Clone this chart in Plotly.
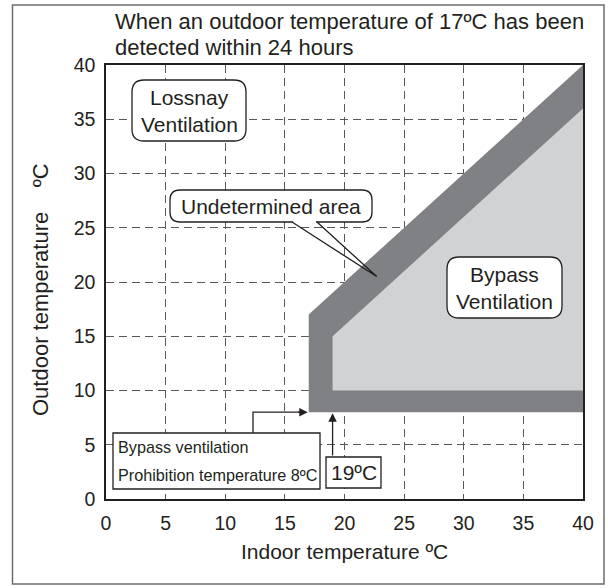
import plotly.graph_objects as go

# Operating regions of the ventilation mode switch (indoor vs outdoor temperature, ºC)
undetermined_x = [17, 17, 40, 40]
undetermined_y = [8, 17, 40, 8]
bypass_x = [19, 19, 40, 40]
bypass_y = [10, 15, 36, 10]

x_ticks = [0, 5, 10, 15, 20, 25, 30, 35, 40]
y_ticks = [0, 5, 10, 15, 20, 25, 30, 35, 40]

prohibition_temp = 8
bypass_indoor_min = 19

W, H = 608, 588
L, R, T, B = 106, 583, 65, 499   # plot area in pixels
FONT = "Liberation Sans, Arial, Helvetica, sans-serif"
INK = "#231f20"


def dx(v):
    return L + (R - L) * v / 40.0


def dy(v):
    return B - (B - T) * v / 40.0


def pxx(p):
    return (p - L) / (R - L)


def pxy(p):
    return (B - p) / (B - T)


def rounded_path(x0, y0, x1, y1, r):
    """Rounded rectangle given in pixel coords, returned as a paper-referenced SVG path."""
    def P(x, y):
        return f"{pxx(x):.5f},{pxy(y):.5f}"
    s = f"M {P(x0 + r, y0)} L {P(x1 - r, y0)} Q {P(x1, y0)} {P(x1, y0 + r)} "
    s += f"L {P(x1, y1 - r)} Q {P(x1, y1)} {P(x1 - r, y1)} "
    s += f"L {P(x0 + r, y1)} Q {P(x0, y1)} {P(x0, y1 - r)} "
    s += f"L {P(x0, y0 + r)} Q {P(x0, y0)} {P(x0 + r, y0)} Z"
    return s


fig = go.Figure()
fig.add_trace(go.Scatter(x=undetermined_x, y=undetermined_y, fill="toself", mode="lines",
                         fillcolor="#808184", line=dict(width=0), hoverinfo="skip", showlegend=False))
fig.add_trace(go.Scatter(x=bypass_x, y=bypass_y, fill="toself", mode="lines",
                         fillcolor="#d1d2d4", line=dict(width=0), hoverinfo="skip", showlegend=False))

shapes = []
# outer frame around the whole figure
shapes.append(dict(type="rect", xref="paper", yref="paper",
                   x0=pxx(12.5), x1=pxx(604), y0=pxy(5), y1=pxy(584),
                   line=dict(color="#6d6e71", width=1.5), fillcolor="rgba(0,0,0,0)"))

# "Lossnay Ventilation" label box
shapes.append(dict(type="path", xref="paper", yref="paper",
                   path=rounded_path(132, 80, 246, 141, 12), fillcolor="white",
                   line=dict(color=INK, width=1.3), layer="above"))
# "Bypass Ventilation" label box
shapes.append(dict(type="path", xref="paper", yref="paper",
                   path=rounded_path(447, 257, 562, 318, 12), fillcolor="white",
                   line=dict(color=INK, width=1.3), layer="above"))
# "Undetermined area" speech bubble
shapes.append(dict(type="path", xref="paper", yref="paper",
                   path=rounded_path(170, 190, 372, 222, 10), fillcolor="white",
                   line=dict(color=INK, width=1.3), layer="above"))
tip_x, tip_y = dx(22.7), dy(20.5)
shapes.append(dict(type="line", xref="paper", yref="paper",
                   x0=pxx(293), y0=pxy(222), x1=pxx(316), y1=pxy(222),
                   line=dict(color="white", width=2.5), layer="above"))
shapes.append(dict(type="path", xref="paper", yref="paper",
                   path=f"M {pxx(292):.5f},{pxy(222):.5f} L {pxx(tip_x):.5f},{pxy(tip_y):.5f} "
                        f"L {pxx(317):.5f},{pxy(222):.5f}",
                   line=dict(color=INK, width=1.3), layer="above"))

# prohibition temperature box and its connector
shapes.append(dict(type="rect", xref="paper", yref="paper",
                   x0=pxx(113), x1=pxx(320), y0=pxy(433), y1=pxy(489),
                   fillcolor="white", line=dict(color=INK, width=1.3), layer="above"))
shapes.append(dict(type="path", xref="paper", yref="paper",
                   path=f"M {pxx(253):.5f},{pxy(433):.5f} L {pxx(253):.5f},{pxy(dy(prohibition_temp)):.5f} "
                        f"L {pxx(dx(17) - 8):.5f},{pxy(dy(prohibition_temp)):.5f}",
                   line=dict(color=INK, width=1.3), layer="above"))
# 19ºC box
shapes.append(dict(type="rect", xref="paper", yref="paper",
                   x0=pxx(326), x1=pxx(381), y0=pxy(457), y1=pxy(488),
                   fillcolor="white", line=dict(color=INK, width=1.3), layer="above"))

annotations = []
TXT = dict(family=FONT, size=21, color=INK)
TITLE = dict(family=FONT, size=22, color=INK)
SMALL = dict(family=FONT, size=16.2, color=INK)


def label(xp, yp, text, font=TXT, xanchor="center", **kw):
    annotations.append(dict(xref="paper", yref="paper", x=pxx(xp), y=pxy(yp), xanchor=xanchor,
                            yanchor="middle", showarrow=False, font=font, text=text, **kw))


label(113, 21, "When an outdoor temperature of 17ºC has been", font=TITLE, xanchor="left")
label(113, 47, "detected within 24 hours", font=TITLE, xanchor="left")
label(189, 97, "Lossnay")
label(189, 124, "Ventilation")
label(504.5, 274, "Bypass")
label(504.5, 301, "Ventilation")
label(271, 206, "Undetermined area")
label(116, 447, "Bypass ventilation", font=SMALL, xanchor="left")
label(116, 474.5, f"Prohibition temperature {prohibition_temp}ºC", font=SMALL, xanchor="left")
label(353.5, 472.5, f"{bypass_indoor_min}ºC")
label(344, 551, "Indoor temperature ºC")
label(40, 290, "Outdoor temperature\u00a0\u00a0\u00a0\u00a0ºC", font=dict(family=FONT, size=22, color=INK),
      textangle=-90)

# arrow heads at the prohibition temperature and the 19ºC boundary
annotations.append(dict(x=17, y=prohibition_temp, xref="x", yref="y", text="", showarrow=True,
                        ax=-12, ay=0, arrowhead=2, arrowsize=1.3, arrowwidth=1.3, arrowcolor=INK, standoff=1))
annotations.append(dict(x=bypass_indoor_min, y=prohibition_temp, xref="x", yref="y", text="", showarrow=True,
                        ax=0, ay=457 - dy(prohibition_temp), arrowhead=2, arrowsize=1.3, arrowwidth=1.3,
                        arrowcolor=INK, standoff=1))

axis_common = dict(range=[0, 40], showgrid=True, gridcolor="#58595b", gridwidth=1,
                   griddash="8px,5px", showline=True, mirror=True, linecolor=INK, linewidth=1.5,
                   ticks="", zeroline=False, tickfont=dict(family=FONT, size=19.5, color=INK),
                   fixedrange=True)
fig.update_layout(
    width=W, height=H,
    margin=dict(l=L, r=W - R, t=T, b=H - B),
    paper_bgcolor="white", plot_bgcolor="white",
    xaxis=dict(tickvals=x_ticks, ticktext=[str(v) for v in x_ticks], ticklabelstandoff=6, **axis_common),
    yaxis=dict(tickvals=y_ticks, ticktext=[str(v) for v in y_ticks], ticklabelstandoff=5, **axis_common),
    shapes=shapes, annotations=annotations, showlegend=False,
)
fig.write_html("out.html")
